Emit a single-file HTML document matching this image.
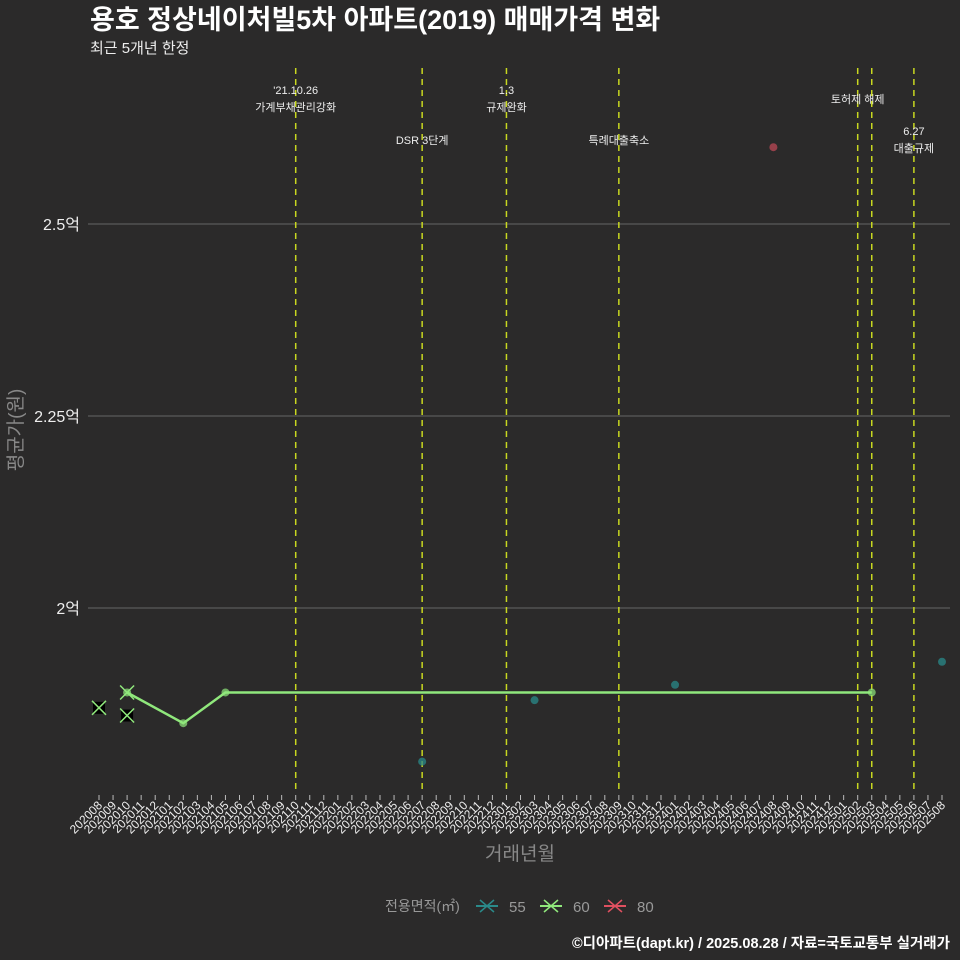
<!DOCTYPE html>
<html><head><meta charset="utf-8"><style>
body{margin:0;background:#2b2a2a;}
svg{display:block;font-family:"Liberation Sans","Noto Sans CJK KR",sans-serif;}
</style></head><body>
<svg id="chart" width="960" height="960">
<rect width="960" height="960" fill="#2b2a2a"/>
<text x="90" y="29" font-size="27" font-weight="bold" fill="#fff">용호 정상네이처빌5차 아파트(2019) 매매가격 변화</text>
<text x="90" y="53" font-size="15" fill="#eee">최근 5개년 한정</text>
<g id="grid"></g><g id="events"></g><g id="series"></g><g id="xaxis"></g>
<text transform="translate(22,430) rotate(-90)" text-anchor="middle" font-size="19" fill="#888">평균가(원)</text>
<text x="520" y="860" text-anchor="middle" font-size="19" fill="#888">거래년월</text>
<g>
<text x="385" y="911" font-size="14" fill="#999">전용면적(㎡)</text>
<g><line x1="476" y1="906" x2="498" y2="906" stroke="#2a8a8a" stroke-width="2"/><path d="M480,900 L494,912 M494,900 L480,912" stroke="#2a8a8a" stroke-width="1.5"/><text x="509" y="912" font-size="15" fill="#999">55</text></g>
<g><line x1="540" y1="906" x2="562" y2="906" stroke="#90e87c" stroke-width="2"/><path d="M544,900 L558,912 M558,900 L544,912" stroke="#90e87c" stroke-width="1.5"/><text x="573" y="912" font-size="15" fill="#999">60</text></g>
<g><line x1="604" y1="906" x2="626" y2="906" stroke="#e05060" stroke-width="2"/><path d="M608,900 L622,912 M622,900 L608,912" stroke="#e05060" stroke-width="1.5"/><text x="637" y="912" font-size="15" fill="#999">80</text></g>
</g>
<text x="950" y="948" text-anchor="end" font-size="14.5" font-weight="bold" fill="#fff">©디아파트(dapt.kr) / 2025.08.28 / 자료=국토교통부 실거래가</text>
</svg>
<script>
const months=[];for(let y=2020;y<=2025;y++)for(let m=1;m<=12;m++){const k=y*100+m;if(k>=202008&&k<=202508)months.push(String(k));}
const yTicks=[2.0,2.25,2.5];
const yTickLabels=["2억","2.25억","2.5억"];
const line60Months=["202010","202102","202105","202503"];
const line60Values=[1.89,1.85,1.89,1.89];
const x60Months=["202008","202010"];
const x60Values=[1.87,1.86];
const pts55Months=["202207","202303","202401","202508"];
const pts55Values=[1.80,1.88,1.90,1.93];
const pts80Months=["202408"];
const pts80Values=[2.60];
const eventMonths=["202110","202207","202301","202309","202502","202503","202506"];
const eventLabels=[["'21.10.26","가계부채관리강화"],["DSR 3단계"],["1.3","규제완화"],["특례대출축소"],["토허제 해제"],[],["6.27","대출규제"]];
const eventLabelY=[90,140,90,140,99,0,131];
const NS="http://www.w3.org/2000/svg";
const X=m=>99+months.indexOf(m)*(843/(months.length-1));
const Y=v=>608-(v-2.0)*768;
function mk(t,a,p){const e=document.createElementNS(NS,t);for(const k in a)e.setAttribute(k,a[k]);p.appendChild(e);return e;}
const grid=document.getElementById('grid');
yTicks.forEach((t,i)=>{
 const l=mk('line',{x1:88,x2:950,y1:Y(t),y2:Y(t),stroke:'#666','stroke-width':1},grid);
 
 
 const tx=mk('text',{x:80,y:Y(t)+6,'text-anchor':'end','font-size':16,fill:'#eee'},grid);
 tx.textContent=yTickLabels[i];
 
 
});
const ev=document.getElementById('events');
eventMonths.forEach((m,i)=>{
 const l=mk('line',{x1:X(m),x2:X(m),y1:68,y2:790,stroke:'#c8d820','stroke-width':1.5,'stroke-dasharray':'6,5'},ev);
 
 
 eventLabels[i].forEach((s,j)=>{
  const t=mk('text',{x:X(m),y:eventLabelY[i]+j*17+4,'text-anchor':'middle','font-size':11,fill:'#eee'},ev);
  t.textContent=s;
  
  
 });
});
const s=document.getElementById('series');
const pl=mk('polyline',{points:line60Months.map((m,i)=>X(m)+','+Y(line60Values[i])).join(' '),fill:'none',stroke:'#90e87c','stroke-width':2.5},s);


line60Months.forEach((m,i)=>{const c=mk('circle',{cx:X(m),cy:Y(line60Values[i]),r:4,fill:'#90e87c','fill-opacity':0.7},s);
 
 });
mk('path',{d:`M${X('202010')-7},${Y(1.89)-7}l14,14m0,-14l-14,14`,stroke:'#90e87c','stroke-width':1.5},s);
x60Months.forEach((m,i)=>{const cx=X(m),cy=Y(x60Values[i]);
 const b=mk('rect',{x:cx-6,y:cy-6,width:12,height:12,fill:'#000'},s);
 
 
 const p=mk('path',{d:`M${cx-7},${cy-7}l14,14m0,-14l-14,14`,stroke:'#90e87c','stroke-width':1.5},s);
 
 });
pts55Months.forEach((m,i)=>{const c=mk('circle',{cx:X(m),cy:Y(pts55Values[i]),r:4,fill:'#2a8a8a','fill-opacity':0.75},s);
 
 });
pts80Months.forEach((m,i)=>{const c=mk('circle',{cx:X(m),cy:Y(pts80Values[i]),r:4,fill:'#e05060','fill-opacity':0.6},s);
 
 });
const xa=document.getElementById('xaxis');
months.forEach(m=>{const x=X(m);
 const t=mk('line',{x1:x,x2:x,y1:795,y2:800,stroke:'#bbb'},xa);
 
 
 const l=mk('text',{x:0,y:0,transform:`translate(${x+4},${806}) rotate(-45)`,'text-anchor':'end','font-size':12,fill:'#eee'},xa);
 l.textContent=m;
 
 });
</script>
</body></html>
